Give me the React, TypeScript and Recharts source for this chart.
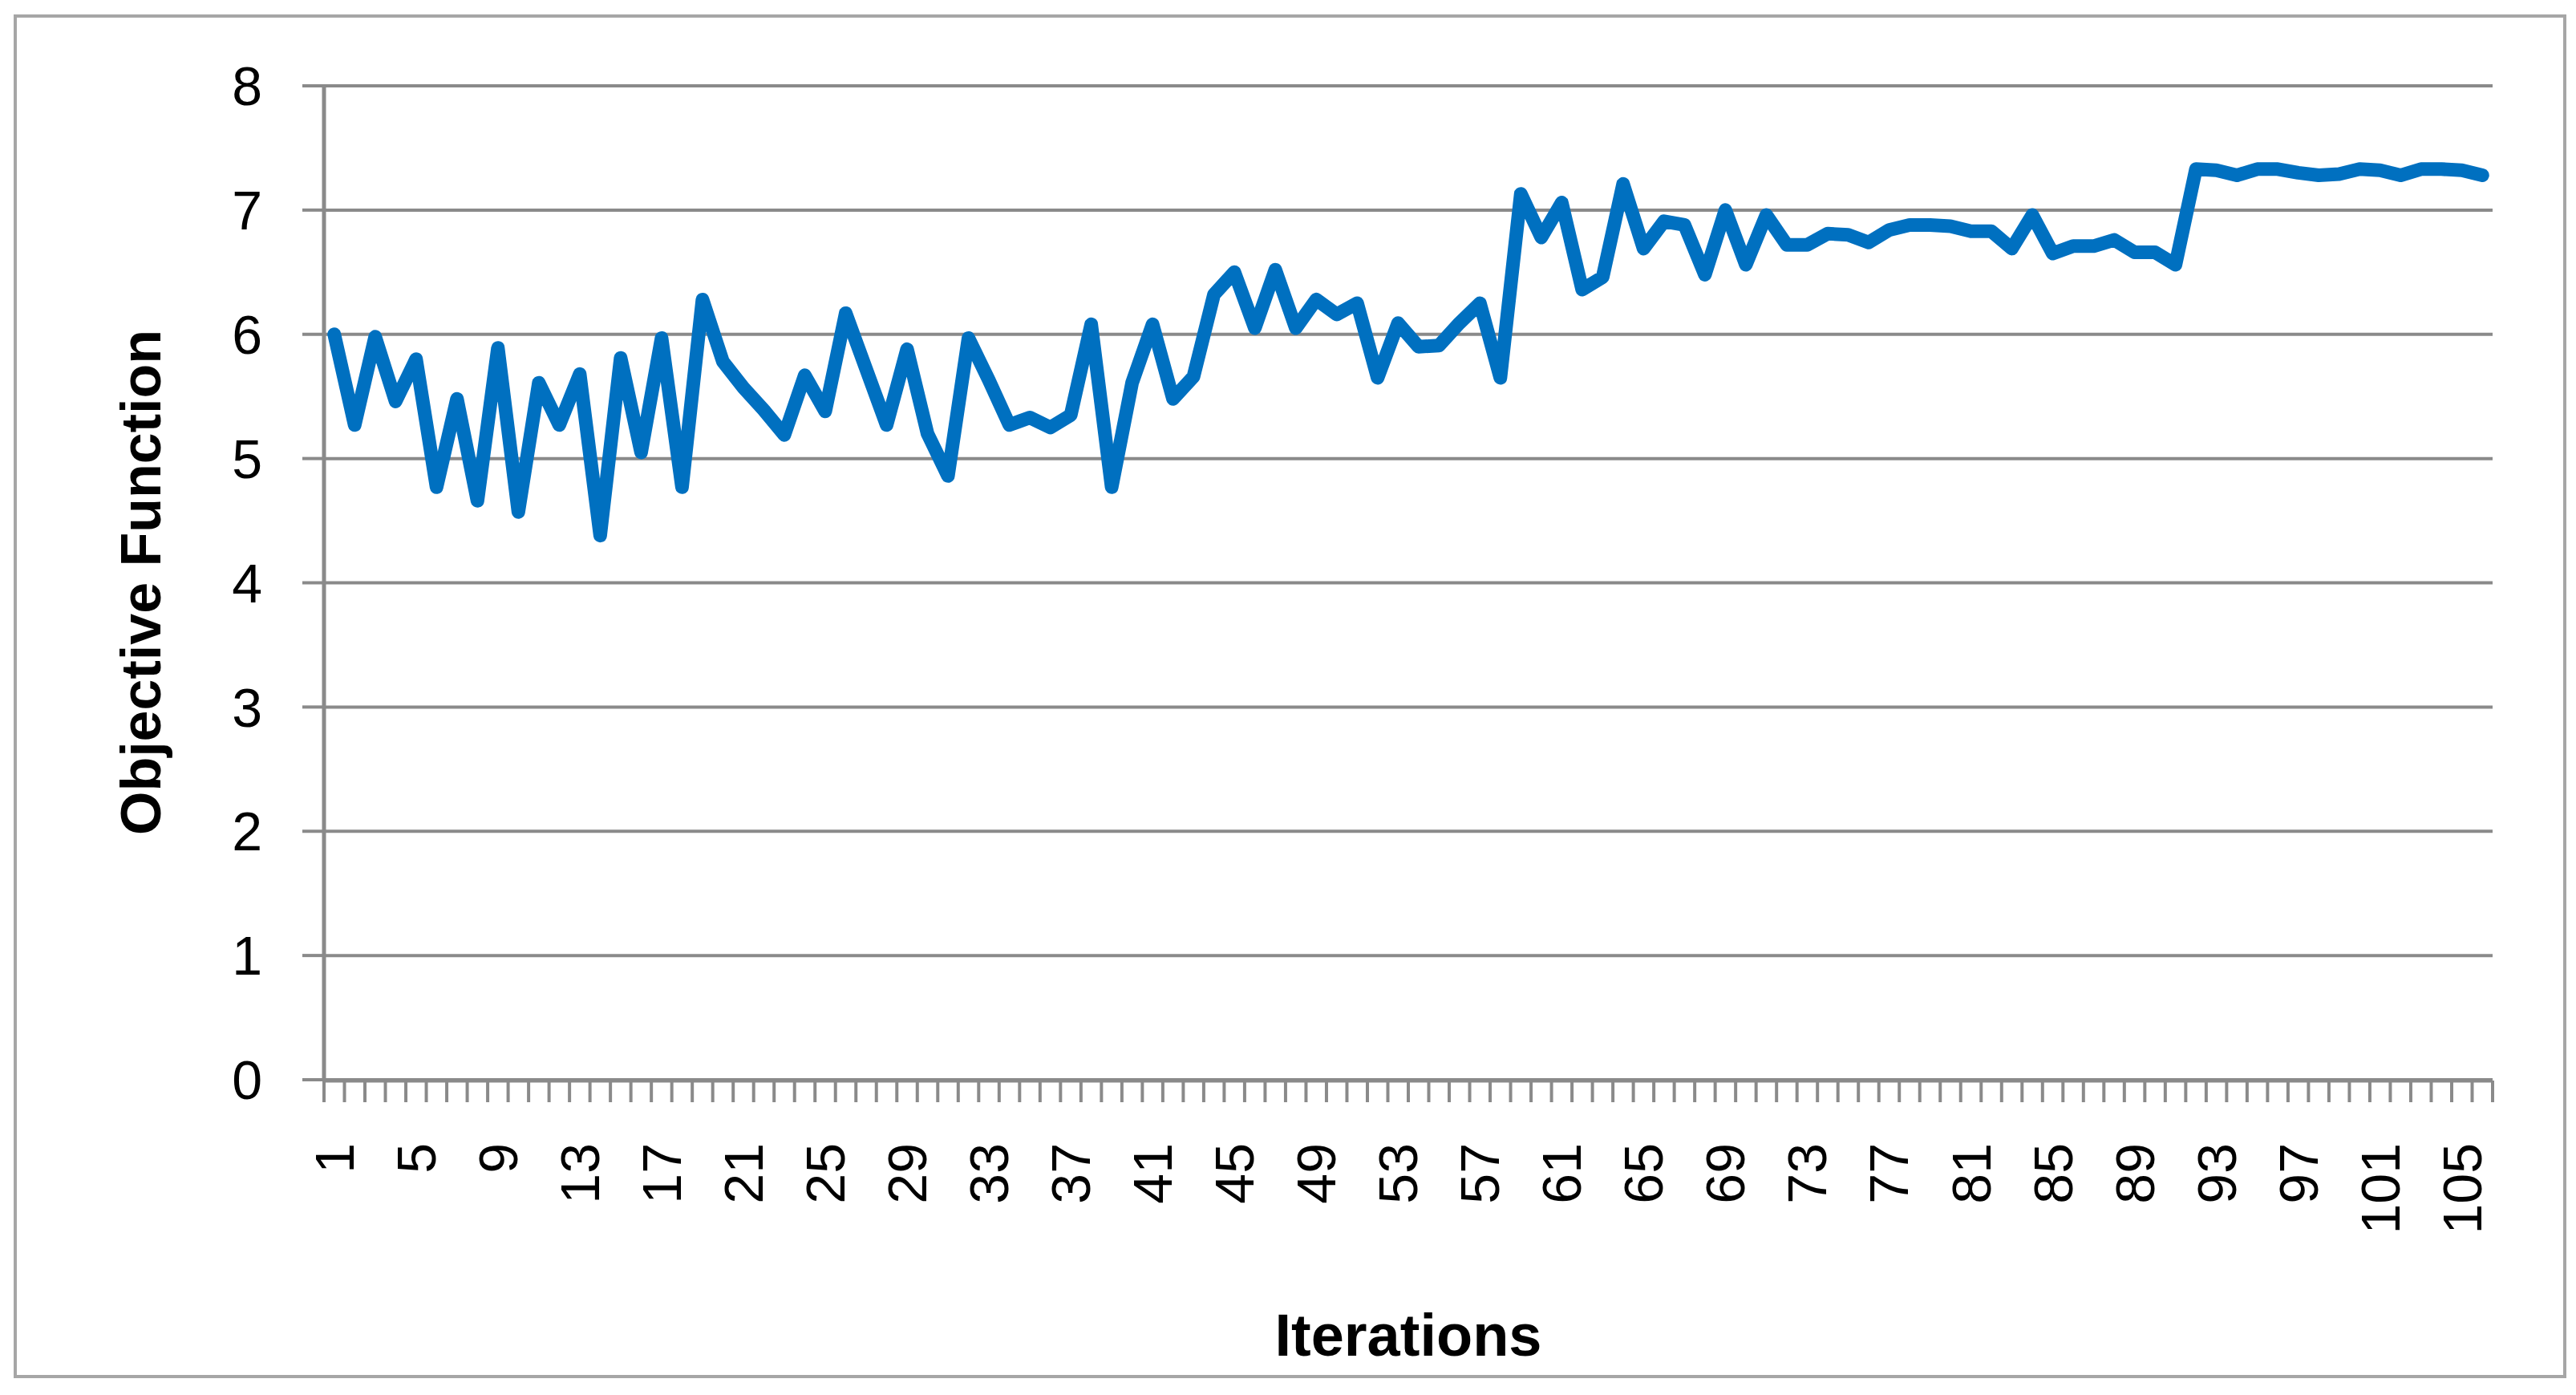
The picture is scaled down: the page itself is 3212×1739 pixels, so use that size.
import React from 'react';
import { LineChart, Line, XAxis, YAxis, CartesianGrid, Label } from 'recharts';

const iterations: number[] = Array.from({ length: 106 }, (_, i) => i + 1);

const objectiveValues: number[] = [
  6.0, 5.27, 5.98, 5.46, 5.8, 4.77, 5.48, 4.66, 5.89, 4.57,
  5.61, 5.27, 5.68, 4.38, 5.81, 5.05, 5.97, 4.77, 6.28, 5.78,
  5.57, 5.39, 5.19, 5.67, 5.38, 6.17, 5.72, 5.27, 5.88, 5.2,
  4.86, 5.97, 5.63, 5.27, 5.33, 5.25, 5.35, 6.08, 4.77, 5.61,
  6.08, 5.48, 5.66, 6.32, 6.5, 6.05, 6.52, 6.05, 6.28, 6.16,
  6.25, 5.65, 6.09, 5.9, 5.91, 6.09, 6.25, 5.65, 7.13, 6.78,
  7.06, 6.36, 6.46, 7.21, 6.69, 6.91, 6.88, 6.48, 7.0, 6.56,
  6.96, 6.72, 6.72, 6.81, 6.8, 6.74, 6.84, 6.88, 6.88, 6.87,
  6.83, 6.83, 6.69, 6.96, 6.65, 6.71, 6.71, 6.76, 6.66, 6.66,
  6.56, 7.33, 7.32, 7.28, 7.33, 7.33, 7.3, 7.28, 7.29, 7.33,
  7.32, 7.28, 7.33, 7.33, 7.32, 7.28,
];

const xTickLabels: number[] = [1, 5, 9, 13, 17, 21, 25, 29, 33, 37, 41, 45, 49, 53, 57, 61, 65, 69, 73, 77, 81, 85, 89, 93, 97, 101, 105];
const yTicks: number[] = [0, 1, 2, 3, 4, 5, 6, 7, 8];

const tickBoundaries: number[] = iterations.map((v) => v - 0.5).concat([iterations.length + 0.5]);

const data = iterations.map((it, i) => ({ iteration: it, value: objectiveValues[i] }));

const FONT = '"Liberation Sans", Arial, sans-serif';
const GRID = '#8a8a8a';

const EmptyTick = () => <g />;

const XLabelTick = (props: any) => {
  const { x, y, payload } = props;
  return (
    <text
      x={x}
      y={y}
      transform={`rotate(-90 ${x} ${y})`}
      textAnchor="end"
      dominantBaseline="central"
      fontFamily={FONT}
      fontSize={68}
      fill="#000"
    >
      {payload.value}
    </text>
  );
};

export default function App() {
  return (
    <div style={{ position: 'absolute', left: 0, top: 0, width: 3212, height: 1739, background: '#fff' }}>
      <div
        style={{
          position: 'absolute',
          left: 17,
          top: 18,
          width: 3183,
          height: 1700,
          border: '4px solid #a6a6a6',
          boxSizing: 'border-box',
          pointerEvents: 'none',
        }}
      />
      <LineChart
        width={3212}
        height={1739}
        data={data}
        margin={{ top: 107, right: 104, bottom: 391, left: 0 }}
      >
        <CartesianGrid vertical={false} stroke={GRID} strokeWidth={4} />
        <XAxis
          xAxisId="ticks"
          dataKey="iteration"
          type="number"
          domain={[0.5, 106.5]}
          ticks={tickBoundaries}
          interval={0}
          height={1}
          tick={EmptyTick}
          tickSize={27}
          tickLine={{ stroke: GRID, strokeWidth: 4 }}
          axisLine={{ stroke: GRID, strokeWidth: 5 }}
        />
        <XAxis
          xAxisId="labels"
          dataKey="iteration"
          type="number"
          domain={[0.5, 106.5]}
          ticks={xTickLabels}
          interval={0}
          height={1}
          tickSize={0}
          tickMargin={79}
          tickLine={false}
          axisLine={false}
          tick={<XLabelTick />}
        >
          <Label
            content={() => (
              <text
                x={1756}
                y={1690}
                textAnchor="middle"
                fontFamily={FONT}
                fontWeight="bold"
                fontSize={74}
                fill="#000"
              >
                Iterations
              </text>
            )}
          />
        </XAxis>
        <YAxis
          domain={[0, 8]}
          ticks={yTicks}
          interval={0}
          width={404}
          tickSize={27}
          tickMargin={50}
          tickLine={{ stroke: GRID, strokeWidth: 4 }}
          axisLine={{ stroke: GRID, strokeWidth: 5 }}
          tick={{ fontFamily: FONT, fontSize: 68, fill: '#000' }}
        >
          <Label
            content={() => (
              <text
                x={176}
                y={726}
                transform="rotate(-90 176 726)"
                textAnchor="middle"
                dominantBaseline="central"
                fontFamily={FONT}
                fontWeight="bold"
                fontSize={70}
                fill="#000"
              >
                Objective Function
              </text>
            )}
          />
        </YAxis>
        <Line
          xAxisId="ticks"
          type="linear"
          dataKey="value"
          stroke="#0070C0"
          strokeWidth={17}
          strokeLinejoin="round"
          strokeLinecap="round"
          dot={false}
          activeDot={false}
          isAnimationActive={false}
        />
      </LineChart>
    </div>
  );
}
